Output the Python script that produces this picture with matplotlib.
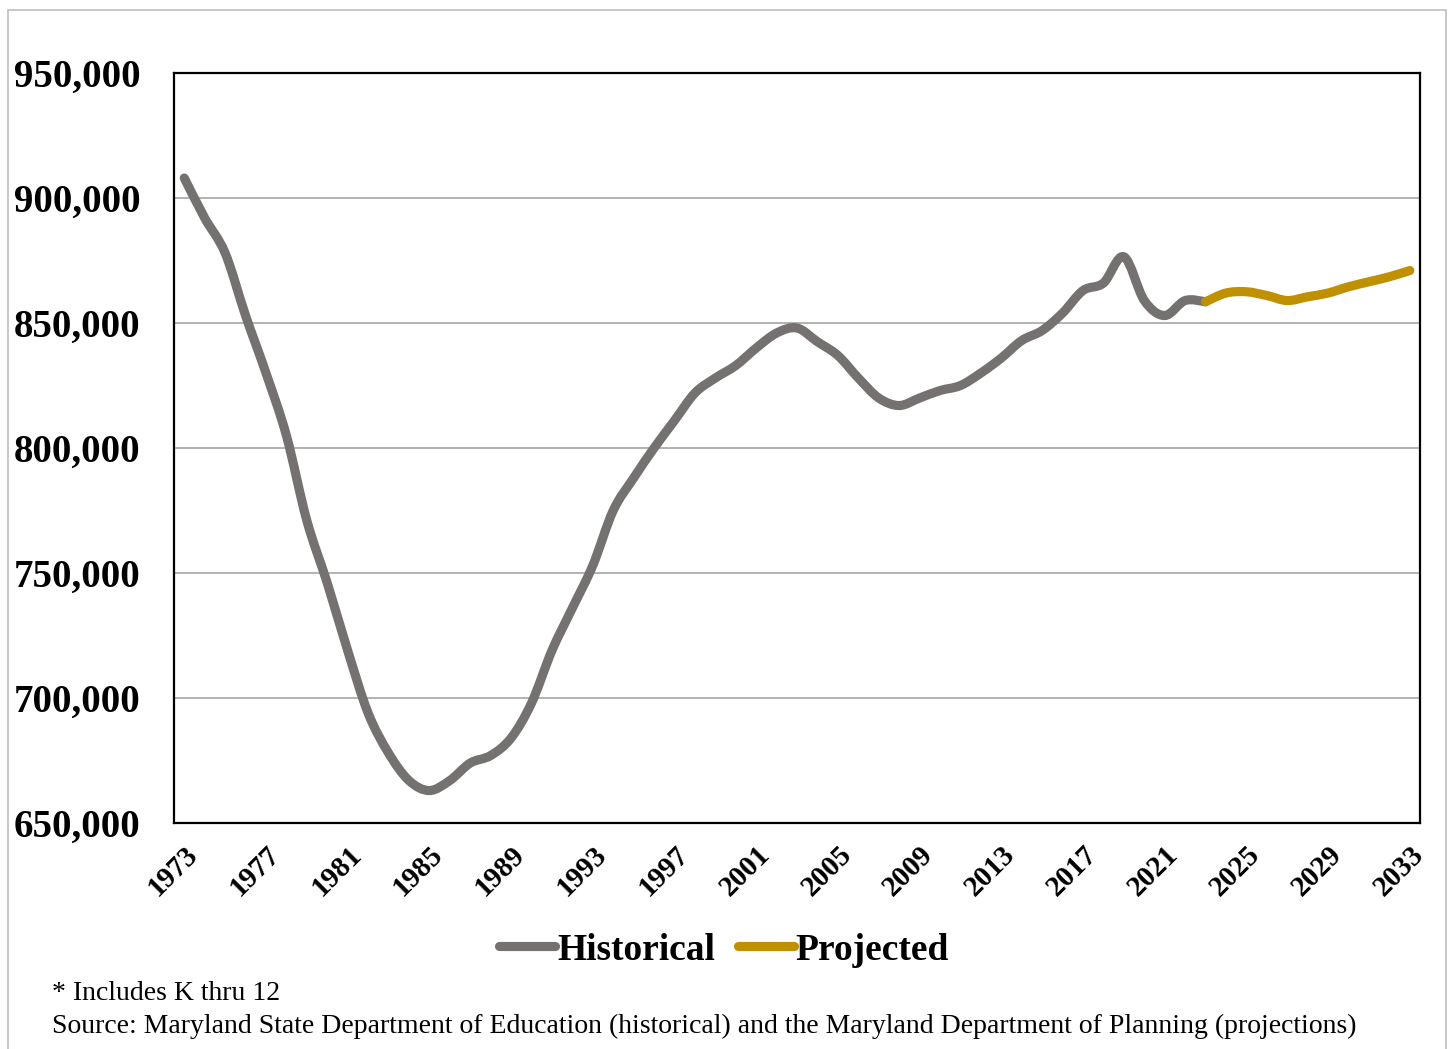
import numpy as np
import matplotlib
matplotlib.use('Agg')
import matplotlib.pyplot as plt
from matplotlib.path import Path
from matplotlib.patches import PathPatch, Rectangle
from matplotlib.lines import Line2D
from matplotlib.ticker import FuncFormatter

# enrollment values
hist_years = list(range(1973, 2024))
hist_values = [908000, 892000, 878000, 853000, 830000, 805000, 771000, 746000, 719000, 694000,
               678000, 667000, 663000, 667000, 674000, 677000, 684000, 698000, 719000, 736000,
               753000, 775000, 788000, 800000, 811000, 822000, 828000, 833000, 840000, 846000,
               848000, 842500, 837000, 828000, 820000, 817000, 820000, 823000, 825000, 830000,
               836000, 843000, 847000, 854000, 863000, 866000, 876500, 859000, 853000, 859000,
               858500]
proj_years = list(range(2023, 2034))
proj_values = [858500, 862000, 862500, 861000, 859000, 860500, 862000, 864500, 866500, 868500,
               871000]
tick_years = list(range(1973, 2034, 4))
y_ticks = [650000, 700000, 750000, 800000, 850000, 900000, 950000]

hist_color = '#767171'
proj_color = '#BF9000'
serif = ['Liberation Serif', 'DejaVu Serif']


def smooth_path(xs, ys):
    # Excel-style smoothed line as cubic bezier segments
    p = np.column_stack([xs, ys]).astype(float)
    n = len(p)
    verts = [p[0]]
    codes = [Path.MOVETO]
    for i in range(n - 1):
        p0 = p[i - 1] if i > 0 else p[i]
        p3 = p[i + 2] if i + 2 < n else p[i + 1]
        c1 = p[i] + (p[i + 1] - p0) / 6.0
        c2 = p[i + 1] - (p3 - p[i]) / 6.0
        verts += [c1, c2, p[i + 1]]
        codes += [Path.CURVE4] * 3
    return Path(verts, codes)


fig = plt.figure(figsize=(14.48, 10.49), dpi=100)
ax = fig.add_axes([0.1202, 0.2154, 0.8605, 0.715])

lw = 6.6
for xs, ys, c in [(hist_years, hist_values, hist_color), (proj_years, proj_values, proj_color)]:
    patch = PathPatch(smooth_path(xs, ys), facecolor='none', edgecolor=c, lw=lw,
                      capstyle='round', joinstyle='round', zorder=3)
    ax.add_patch(patch)

ax.set_xlim(1972.5, 2033.5)
ax.set_ylim(650000, 950000)
ax.set_yticks(y_ticks)
ax.yaxis.set_major_formatter(FuncFormatter(lambda v, p: f'{int(v):,}'))
ax.set_xticks(tick_years)
ax.set_xticklabels([str(y) for y in tick_years], rotation=45, ha='right',
                   rotation_mode='anchor')
ax.grid(axis='y', color='#A6A6A6', lw=1.2)
ax.set_axisbelow(True)
ax.tick_params(axis='y', length=0, pad=24)
ax.tick_params(axis='x', length=0, pad=13)
for lab in ax.get_yticklabels():
    lab.set_fontfamily(serif)
    lab.set_fontweight('bold')
    lab.set_fontsize(28)
for lab in ax.get_xticklabels():
    lab.set_fontfamily(serif)
    lab.set_fontweight('bold')
    lab.set_fontsize(21)
for s in ax.spines.values():
    s.set_color('black')
    s.set_linewidth(1.6)

handles = [Line2D([], [], color=hist_color, lw=lw, solid_capstyle='round'),
           Line2D([], [], color=proj_color, lw=lw, solid_capstyle='round')]
fig.legend(handles, ['Historical', 'Projected'], loc='center', bbox_to_anchor=(0.5, 1 - 950 / 1049),
           ncol=2, frameon=False, handlelength=1.5, handletextpad=0.05, columnspacing=0.6,
           prop={'family': serif, 'weight': 'bold', 'size': 27})

fig.text(52 / 1448, 1 - 994 / 1049, '* Includes K thru 12', fontfamily=serif, fontsize=20,
         va='center', ha='left')
fig.text(52 / 1448, 1 - 1026 / 1049,
         'Source: Maryland State Department of Education (historical) and the Maryland Department of Planning (projections)',
         fontfamily=serif, fontsize=20, va='center', ha='left')

fig.patches.append(Rectangle((8 / 1448, -0.01), 1438 / 1448, 1 - 10 / 1049 + 0.01,
                             transform=fig.transFigure, fill=False, edgecolor='#BFBFBF', lw=1.2))

fig.savefig('out.png', dpi=100)
